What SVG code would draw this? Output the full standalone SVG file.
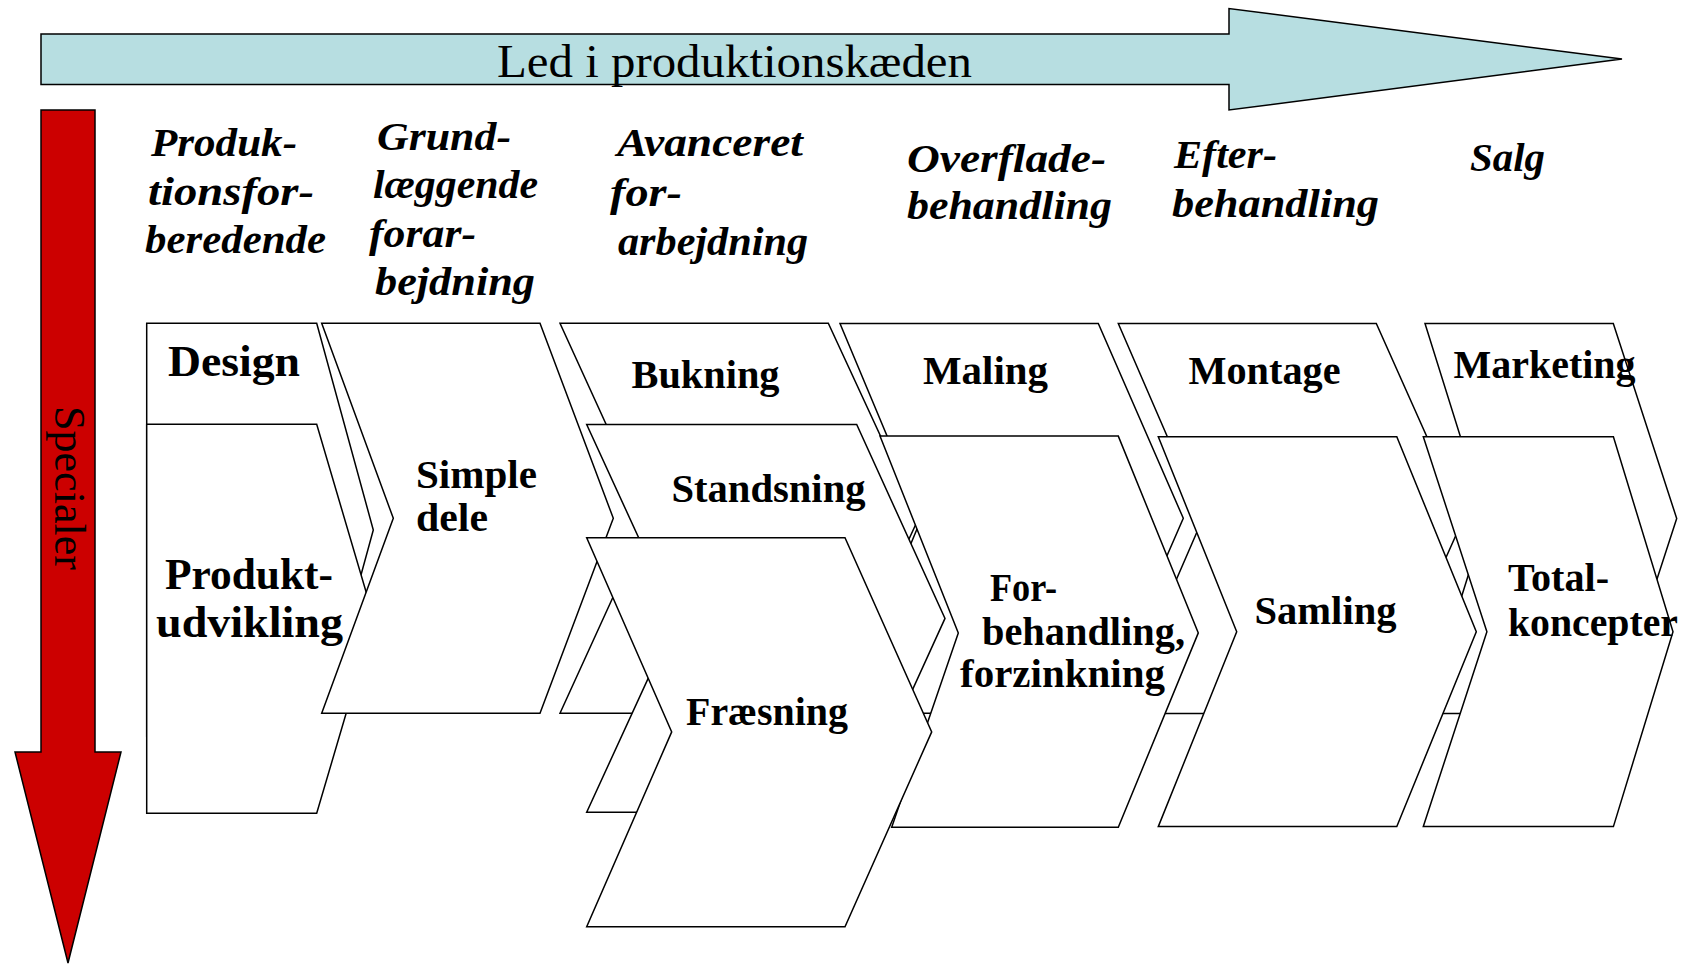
<svg xmlns="http://www.w3.org/2000/svg" width="1684" height="965" viewBox="0 0 1684 965">
<style>
.bg{fill:#ffffff}
.shape{fill:#ffffff;stroke:#000000;stroke-width:1.5;stroke-linejoin:miter}
.lbl{font-family:"Liberation Serif","Times New Roman",serif;font-weight:bold;font-size:40px;fill:#000000}
.big{font-size:45px}
.hdr{font-family:"Liberation Serif","Times New Roman",serif;font-weight:bold;font-style:italic;font-size:41px;fill:#000000}
.axis{font-family:"Liberation Serif","Times New Roman",serif;font-size:47px;fill:#000000}
.blue{fill:#b7dee1;stroke:#000000;stroke-width:1.5}
.red{fill:#cc0000;stroke:#000000;stroke-width:1.5}
</style>
<rect class="bg" x="0" y="0" width="1684" height="965"/>

<g id="axis-arrows">
  <g id="arrow-chain">
    <polygon class="blue" points="41,34 1229,34 1229,8.5 1622,59 1229,110 1229,84.5 41,84.5"/>
    <text class="axis" x="497" y="76.5" textLength="475" lengthAdjust="spacingAndGlyphs">Led i produktionskæden</text>
  </g>
  <g id="arrow-specialer">
    <polygon class="red" points="41,110 95,110 95,752 121,752 68,963 15,752 41,752"/>
    <text class="axis" style="font-size:43.5px" transform="translate(55,406) rotate(90)" textLength="164" lengthAdjust="spacingAndGlyphs">Specialer</text>
  </g>
</g>

<g id="headers">
  <g id="hdr-1">
    <text class="hdr" x="151" y="156" textLength="146" lengthAdjust="spacingAndGlyphs">Produk-</text>
    <text class="hdr" x="148" y="204.5" textLength="166" lengthAdjust="spacingAndGlyphs">tionsfor-</text>
    <text class="hdr" x="145" y="253" textLength="181" lengthAdjust="spacingAndGlyphs">beredende</text>
  </g>
  <g id="hdr-2">
    <text class="hdr" x="377" y="149.5" textLength="134" lengthAdjust="spacingAndGlyphs">Grund-</text>
    <text class="hdr" x="373" y="198" textLength="165" lengthAdjust="spacingAndGlyphs">læggende</text>
    <text class="hdr" x="369" y="246.5" textLength="107" lengthAdjust="spacingAndGlyphs">forar-</text>
    <text class="hdr" x="375" y="295" textLength="160" lengthAdjust="spacingAndGlyphs">bejdning</text>
  </g>
  <g id="hdr-3">
    <text class="hdr" x="617" y="156" textLength="186" lengthAdjust="spacingAndGlyphs">Avanceret</text>
    <text class="hdr" x="610" y="206" textLength="72" lengthAdjust="spacingAndGlyphs">for-</text>
    <text class="hdr" x="618" y="255" textLength="190" lengthAdjust="spacingAndGlyphs">arbejdning</text>
  </g>
  <g id="hdr-4">
    <text class="hdr" x="907" y="171.5" textLength="199" lengthAdjust="spacingAndGlyphs">Overflade-</text>
    <text class="hdr" x="907" y="218.5" textLength="205" lengthAdjust="spacingAndGlyphs">behandling</text>
  </g>
  <g id="hdr-5">
    <text class="hdr" x="1174" y="168" textLength="103" lengthAdjust="spacingAndGlyphs">Efter-</text>
    <text class="hdr" x="1172" y="216.5" textLength="207" lengthAdjust="spacingAndGlyphs">behandling</text>
  </g>
  <g id="hdr-6">
    <text class="hdr" x="1470" y="171" textLength="75" lengthAdjust="spacingAndGlyphs">Salg</text>
  </g>
</g>

<g id="node-design">
  <polygon class="shape" points="146.7,323.3 316.7,323.3 373.3,530 316.7,736.7 146.7,736.7"/>
  <text class="lbl big" x="168" y="375.5" textLength="132" lengthAdjust="spacingAndGlyphs">Design</text>
</g>
<g id="node-produktudvikling">
  <polygon class="shape" points="146.7,424.3 316.7,424.3 374,618.8 316.7,813.3 146.7,813.3"/>
  <text class="lbl big" x="165" y="588.5" textLength="168" lengthAdjust="spacingAndGlyphs">Produkt-</text>
  <text class="lbl big" x="156" y="636.5" textLength="187" lengthAdjust="spacingAndGlyphs">udvikling</text>
</g>
<g id="node-simple-dele">
  <polygon class="shape" points="321.7,323.3 540,323.3 613.3,518.3 540,713.3 321.7,713.3 393.3,518.3"/>
  <text class="lbl" x="416" y="487.5" textLength="121" lengthAdjust="spacingAndGlyphs">Simple</text>
  <text class="lbl" x="416" y="530.5" textLength="72" lengthAdjust="spacingAndGlyphs">dele</text>
</g>
<g id="node-bukning">
  <polygon class="shape" points="560,323.3 828.3,323.3 918.6,518.3 828.3,713.3 560,713.3 649,518.3"/>
  <text class="lbl" x="631.5" y="387.5" textLength="148" lengthAdjust="spacingAndGlyphs">Bukning</text>
</g>
<g id="node-maling">
  <polygon class="shape" points="840,323.5 1098.3,323.5 1183.3,518.3 1098.3,713.3 840,713.3 921.5,518.3"/>
  <text class="lbl" x="923" y="383.5" textLength="125" lengthAdjust="spacingAndGlyphs">Maling</text>
</g>
<g id="node-montage">
  <polygon class="shape" points="1118.3,323.5 1376.3,323.5 1463.4,518.5 1376.3,713.5 1118.3,713.5 1202.8,518.5"/>
  <text class="lbl" x="1188.5" y="383.5" textLength="152" lengthAdjust="spacingAndGlyphs">Montage</text>
</g>
<g id="node-marketing">
  <polygon class="shape" points="1425,323.5 1613.3,323.5 1676.7,518.5 1613.3,713.5 1425,713.5 1486,518.5"/>
  <text class="lbl" x="1453.5" y="378" textLength="182" lengthAdjust="spacingAndGlyphs">Marketing</text>
</g>
<g id="node-standsning">
  <polygon class="shape" points="586.7,424.5 856.7,424.5 945,618.4 856.7,812.2 586.7,812.2 675.7,618.4"/>
  <text class="lbl" x="671.5" y="502" textLength="194" lengthAdjust="spacingAndGlyphs">Standsning</text>
</g>
<g id="node-forbehandling">
  <polygon class="shape" points="880,436.1 1118.3,436.1 1198.3,632.9 1118.3,827.2 891.7,827.2 958.3,632.9"/>
  <text class="lbl" x="990" y="601" textLength="67" lengthAdjust="spacingAndGlyphs">For-</text>
  <text class="lbl" x="982" y="644.5" textLength="203" lengthAdjust="spacingAndGlyphs">behandling,</text>
  <text class="lbl" x="960" y="687" textLength="205" lengthAdjust="spacingAndGlyphs">forzinkning</text>
</g>
<g id="node-samling">
  <polygon class="shape" points="1158.3,436.8 1396.8,436.8 1476.3,631.7 1396.8,826.6 1158.3,826.6 1236.7,631.7"/>
  <text class="lbl" x="1254.5" y="624" textLength="142" lengthAdjust="spacingAndGlyphs">Samling</text>
</g>
<g id="node-totalkoncepter">
  <polygon class="shape" points="1423.3,436.8 1613.4,436.8 1673,631.7 1613.4,826.6 1423.3,826.6 1486.9,631.7"/>
  <text class="lbl" x="1508" y="591" textLength="101" lengthAdjust="spacingAndGlyphs">Total-</text>
  <text class="lbl" x="1508" y="636" textLength="170" lengthAdjust="spacingAndGlyphs">koncepter</text>
</g>
<g id="node-fraesning">
  <polygon class="shape" points="586.7,537.8 845,537.8 931.7,731.9 845,926.7 586.7,926.7 671.7,731.9"/>
  <text class="lbl" x="686" y="724.5" textLength="162" lengthAdjust="spacingAndGlyphs">Fræsning</text>
</g>
</svg>
